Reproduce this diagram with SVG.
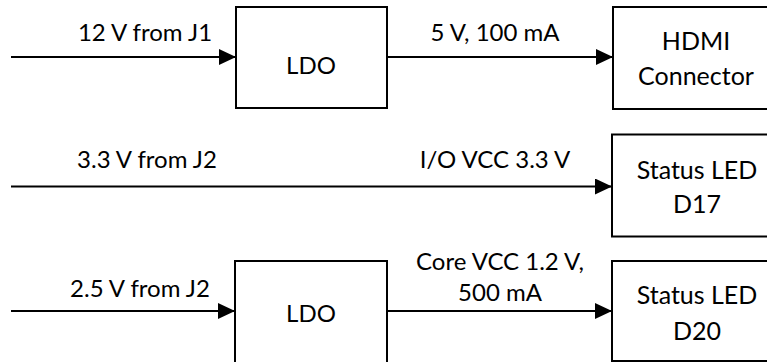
<svg xmlns="http://www.w3.org/2000/svg" width="767" height="362" viewBox="0 0 767 362">
<defs>
<marker id="arr" viewBox="0 0 17 16" refX="17" refY="8" markerWidth="17" markerHeight="16" markerUnits="userSpaceOnUse" orient="auto">
<path d="M0,0 L17,8 L0,16 Z" fill="#000"/>
</marker>
<style>
.box{fill:#fff;stroke:#000;stroke-width:2}
.wire{fill:none;stroke:#000;stroke-width:2;marker-end:url(#arr)}
text{font-family:Lato,"Open Sans","DejaVu Sans",sans-serif;font-size:24px;fill:#000;text-anchor:middle}
.nl{font-size:25px}
</style>
</defs>
<rect width="767" height="362" fill="#fff"/>
<g id="connectors">
<path class="wire" d="M11,57 H236"/>
<path class="wire" d="M387,57 H613"/>
<path class="wire" d="M11,186.5 H612"/>
<path class="wire" d="M11,311 H235"/>
<path class="wire" d="M387,311 H612"/>
</g>
<g id="labels">
<text x="145" y="41">12 V from J1</text>
<text x="495" y="41">5 V, 100 mA</text>
<text x="147" y="168">3.3 V from J2</text>
<text x="495" y="168">I/O VCC 3.3 V</text>
<text x="140" y="297">2.5 V from J2</text>
<text x="500" y="270">Core VCC 1.2 V,</text>
<text x="500" y="301">500 mA</text>
</g>
<g id="ldo1">
<rect class="box" x="236" y="7" width="151" height="101"/>
<text x="311" y="74">LDO</text>
</g>
<g id="hdmi">
<rect class="box" x="613" y="7" width="166" height="102"/>
<text class="nl" x="696" y="50">HDMI</text>
<text class="nl" x="696" y="85">Connector</text>
</g>
<g id="d17">
<rect class="box" x="612" y="134.5" width="168" height="102"/>
<text class="nl" x="697" y="179">Status LED</text>
<text class="nl" x="697" y="213">D17</text>
</g>
<g id="ldo2">
<rect class="box" x="235" y="261" width="152" height="110"/>
<text x="311" y="322">LDO</text>
</g>
<g id="d20">
<rect class="box" x="612" y="261" width="168" height="100"/>
<text class="nl" x="697" y="304">Status LED</text>
<text class="nl" x="697" y="340">D20</text>
</g>
</svg>
